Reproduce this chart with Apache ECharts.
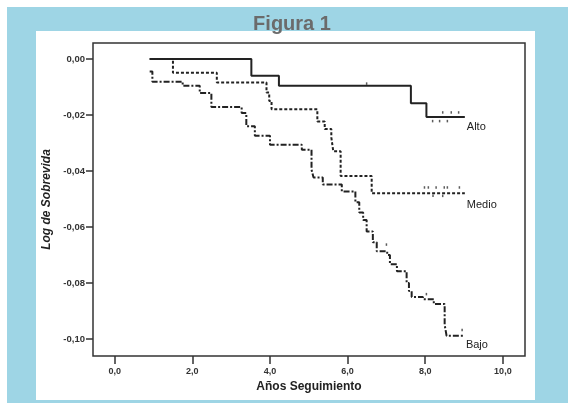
<!DOCTYPE html>
<html lang="es" style="height: 100%">
<head>
    <meta charset="utf-8">
    <style>
        body { margin: 0; background: #fff; }
        #wrap { position: relative; width: 568px; height: 403px; background: #fff; }
        #blue { position: absolute; left: 7px; top: 7px; right: 0; bottom: 0; background: #9ed5e5; }
        #panel { position: absolute; left: 36px; top: 31px; width: 499px; height: 369px; background: #fff; }
        #container { position: absolute; left: 0; top: 0; width: 568px; height: 403px; }
    </style>
</head>
<body>
<div id="wrap">
    <div id="blue"></div>
    <div id="panel"></div>
    <div id="container"></div>
</div>

<script type="text/javascript" src="https://cdn.jsdelivr.net/npm/echarts@6/dist/echarts.min.js"></script>
<script type="text/javascript">
    // curvas Kaplan-Meier (log de sobrevida) por grupo: [años, valor tras el evento]
    var alto = [
        [0.90, 0], [3.52, -0.0060], [4.23, -0.0096], [7.63, -0.0158], [8.03, -0.0207], [9.02, -0.0207]
    ];
    var medio = [
        [0.90, 0], [1.50, -0.0049], [2.63, -0.0084], [3.91, -0.0120], [3.98, -0.0150], [4.04, -0.0180],
        [5.22, -0.0223], [5.41, -0.0250], [5.58, -0.0280], [5.63, -0.0330], [5.82, -0.0418],
        [6.62, -0.0480], [9.02, -0.0480]
    ];
    var bajo = [
        [0.90, -0.0045], [0.97, -0.0081], [1.75, -0.0096], [2.19, -0.0122], [2.49, -0.0172],
        [3.27, -0.0193], [3.39, -0.0240], [3.61, -0.0274], [4.00, -0.0306], [4.82, -0.0324],
        [5.07, -0.0395], [5.12, -0.0423], [5.36, -0.0448], [5.85, -0.0473], [6.20, -0.0512],
        [6.30, -0.0548], [6.40, -0.0575], [6.49, -0.0616], [6.65, -0.0655], [6.75, -0.0687],
        [7.02, -0.0700], [7.09, -0.0733], [7.27, -0.0758], [7.52, -0.0800], [7.58, -0.0829],
        [7.65, -0.0850], [7.94, -0.0858], [8.22, -0.0875], [8.50, -0.0950], [8.55, -0.0989],
        [8.97, -0.0989]
    ];
    // casos censurados
    var censurados = [
        [6.49, -0.0088], [8.19, -0.0222], [8.37, -0.0222], [8.57, -0.0222],
        [8.45, -0.0191], [8.67, -0.0191], [8.86, -0.0191],
        [7.98, -0.0459], [8.08, -0.0459], [8.28, -0.0459], [8.49, -0.0459], [8.57, -0.0459], [8.88, -0.0459],
        [8.20, -0.0489], [8.45, -0.0489],
        [7.00, -0.0663], [8.03, -0.0840], [8.95, -0.0968]
    ];
    var xTicks = [0, 2, 4, 6, 8, 10];
    var yTicks = [0, -0.02, -0.04, -0.06, -0.08, -0.10];

    var dom = document.getElementById('container');
    var myChart = echarts.init(dom, null, { renderer: 'canvas' });

    function coma(v, d) {
        return v.toFixed(d).replace('.', ',');
    }

    function curva(name, data, type, label, offset) {
        return {
            name: name,
            type: 'line',
            step: 'end',
            data: data,
            symbol: 'none',
            silent: true,
            lineStyle: { color: '#222', width: 2, type: type },
            endLabel: {
                show: true,
                formatter: label,
                distance: 2,
                offset: offset,
                align: 'left',
                color: '#222',
                fontFamily: 'Liberation Sans',
                fontSize: 11
            }
        };
    }

    var option = {
        animation: false,
        title: {
            text: 'Figura 1',
            left: 287,
            textAlign: 'center',
            top: 9,
            textStyle: { color: '#6b6b6b', fontSize: 20, fontWeight: 'bold', fontFamily: 'Liberation Sans' }
        },
        grid: {
            left: 93, top: 43, width: 432, height: 313,
            show: true,
            borderColor: '#333',
            borderWidth: 1.5,
            backgroundColor: 'transparent'
        },
        xAxis: {
            type: 'value',
            min: -0.56,
            max: 10.57,
            name: 'Años Seguimiento',
            nameLocation: 'middle',
            nameGap: 25,
            nameTextStyle: { color: '#222', fontSize: 12, fontWeight: 'bold', fontFamily: 'Liberation Sans' },
            splitLine: { show: false },
            axisLine: { show: false, onZero: false },
            axisTick: { show: true, length: 8, customValues: xTicks, lineStyle: { color: '#333', width: 1.5 } },
            axisLabel: {
                customValues: xTicks,
                margin: 11,
                color: '#333',
                fontSize: 9,
                fontWeight: 'bold',
                fontFamily: 'Liberation Sans',
                formatter: function (v) { return coma(v, 1); }
            }
        },
        yAxis: {
            type: 'value',
            min: -0.1061,
            max: 0.0057,
            name: 'Log de Sobrevida',
            nameLocation: 'middle',
            nameGap: 34,
            nameTextStyle: { color: '#222', fontSize: 12, fontWeight: 'bold', fontStyle: 'italic', fontFamily: 'Liberation Sans' },
            splitLine: { show: false },
            axisLine: { show: false, onZero: false },
            axisTick: { show: true, length: 7, customValues: yTicks, lineStyle: { color: '#333', width: 1.5 } },
            axisLabel: {
                customValues: yTicks,
                margin: 8,
                color: '#333',
                fontSize: 9.5,
                fontWeight: 'bold',
                fontFamily: 'Liberation Sans',
                formatter: function (v) { return coma(v, 2); }
            }
        },
        series: [
            curva('Alto', alto, 'solid', 'Alto', [0, 10]),
            curva('Medio', medio, [3, 2], 'Medio', [0, 12]),
            curva('Bajo', bajo, [6, 2, 2, 2], 'Bajo', [1, 9]),
            {
                name: 'Censurados',
                type: 'scatter',
                data: censurados,
                symbol: 'rect',
                symbolSize: [1.5, 2.5],
                silent: true,
                itemStyle: { color: '#333' }
            }
        ]
    };

    myChart.setOption(option);
    window.addEventListener('resize', myChart.resize);
</script>
</body>
</html>
